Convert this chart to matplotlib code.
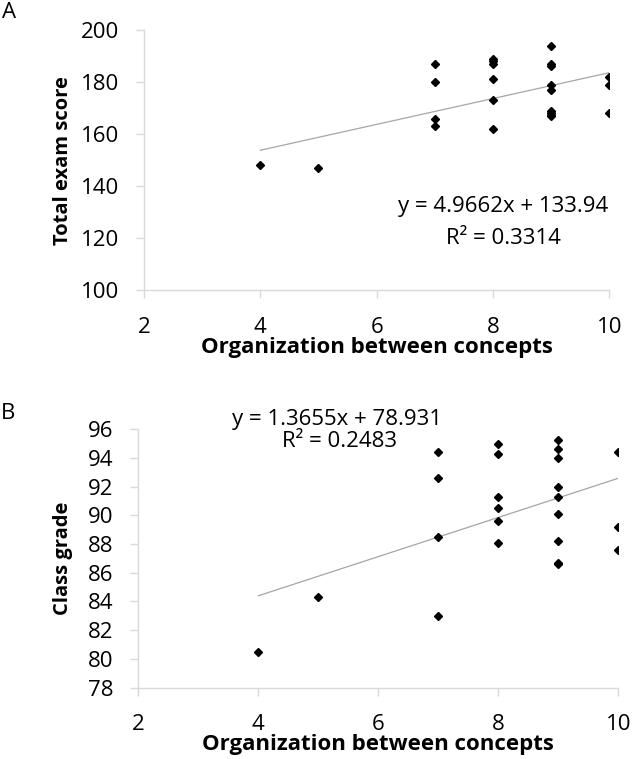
import numpy as np
import matplotlib
matplotlib.use('Agg')
from matplotlib import pyplot as plt

# data
org_x = [4, 5, 7, 7, 7, 7, 8, 8, 8, 8, 8, 8, 9, 9, 9, 9, 9, 9, 9, 9, 9, 10, 10, 10]
exam_score = [148, 147, 187, 180, 166, 163, 189, 188, 187, 181, 173, 162,
              194, 187, 186, 179, 177, 169, 168, 167.5, 167, 182, 179, 168]
class_grade = [80.5, 84.3, 94.4, 92.6, 88.5, 83.0, 95.0, 94.3, 91.3, 90.5, 89.6, 88.1,
               95.25, 94.6, 94.0, 92.0, 91.3, 90.1, 88.2, 86.7, 86.6, 94.4, 89.2, 87.6]

fit_a = (4.9662, 133.94, 0.3314)
fit_b = (1.3655, 78.931, 0.2483)

x_ticks = [2, 4, 6, 8, 10]
y_ticks_a = list(range(100, 201, 20))
y_ticks_b = list(range(78, 97, 2))

plt.rcParams['font.family'] = ['Open Sans', 'DejaVu Sans']

W, H = 633, 759
fig = plt.figure(figsize=(W / 100, H / 100), dpi=100)

axis_grey = '#d9d9d9'
tick_fs = 16
text_fs = 16


def px_axes(left, right, top, bottom):
    return fig.add_axes([left / W, 1 - bottom / H, (right - left) / W, (bottom - top) / H])


def style(ax, yticks, ylabel, ylab_x):
    for s in ['top', 'right']:
        ax.spines[s].set_visible(False)
    for s in ['left', 'bottom']:
        ax.spines[s].set_color(axis_grey)
        ax.spines[s].set_linewidth(1.0)
    ax.set_xlim(2, 10)
    ax.set_xticks(x_ticks)
    ax.set_yticks(yticks)
    ax.set_ylim(yticks[0], yticks[-1])
    ax.tick_params(axis='both', colors=axis_grey, labelcolor='black', labelsize=tick_fs,
                   length=6, width=1.0, direction='out')
    ax.tick_params(axis='y', pad=12)
    ax.tick_params(axis='x', pad=13)
    ax.set_xlabel('Organization between concepts', fontsize=16, fontweight='bold')
    ax.xaxis.set_label_coords(0.5, -0.219)
    ax.xaxis.label.set_va('center')
    ax.set_ylabel(ylabel, fontsize=14.5, fontweight='bold')
    ax.yaxis.set_label_coords(ylab_x, 0.5)
    ax.yaxis.label.set_va('center')


def draw(ax, y, fit):
    slope, icpt, r2 = fit
    ax.plot(org_x, y, linestyle='none', marker='D', markersize=4.5, color='black')
    xs = np.array([min(org_x), max(org_x)])
    ax.plot(xs, slope * xs + icpt, color='#a6a6a6', linewidth=0.9, zorder=1)


# panel A
ax1 = px_axes(144, 609.3, 30, 290.3)
style(ax1, y_ticks_a, 'Total exam score', -0.174)
draw(ax1, exam_score, fit_a)
fig.text(502.7 / W, 1 - 206.7 / H, 'y = %.4fx + %.2f' % (fit_a[0], fit_a[1]),
         ha='center', va='center', fontsize=text_fs)
fig.text(503 / W, 1 - 238 / H, 'R² = %.4f' % fit_a[2], ha='center', va='center', fontsize=text_fs)
fig.text(2 / W, 1 - 13 / H, 'A', ha='left', va='center', fontsize=16)

# panel B
ax2 = px_axes(138.3, 618.3, 429.3, 687.5)
style(ax2, y_ticks_b, 'Class grade', -0.157)
draw(ax2, class_grade, fit_b)
fig.text(337 / W, 1 - 420 / H, 'y = %.4fx + %.3f' % (fit_b[0], fit_b[1]),
         ha='center', va='center', fontsize=text_fs)
fig.text(340 / W, 1 - 441.7 / H, 'R² = %.4f' % fit_b[2], ha='center', va='center', fontsize=text_fs)
fig.text(1 / W, 1 - 413.5 / H, 'B', ha='left', va='center', fontsize=16)

plt.savefig('out.png', dpi=100)
